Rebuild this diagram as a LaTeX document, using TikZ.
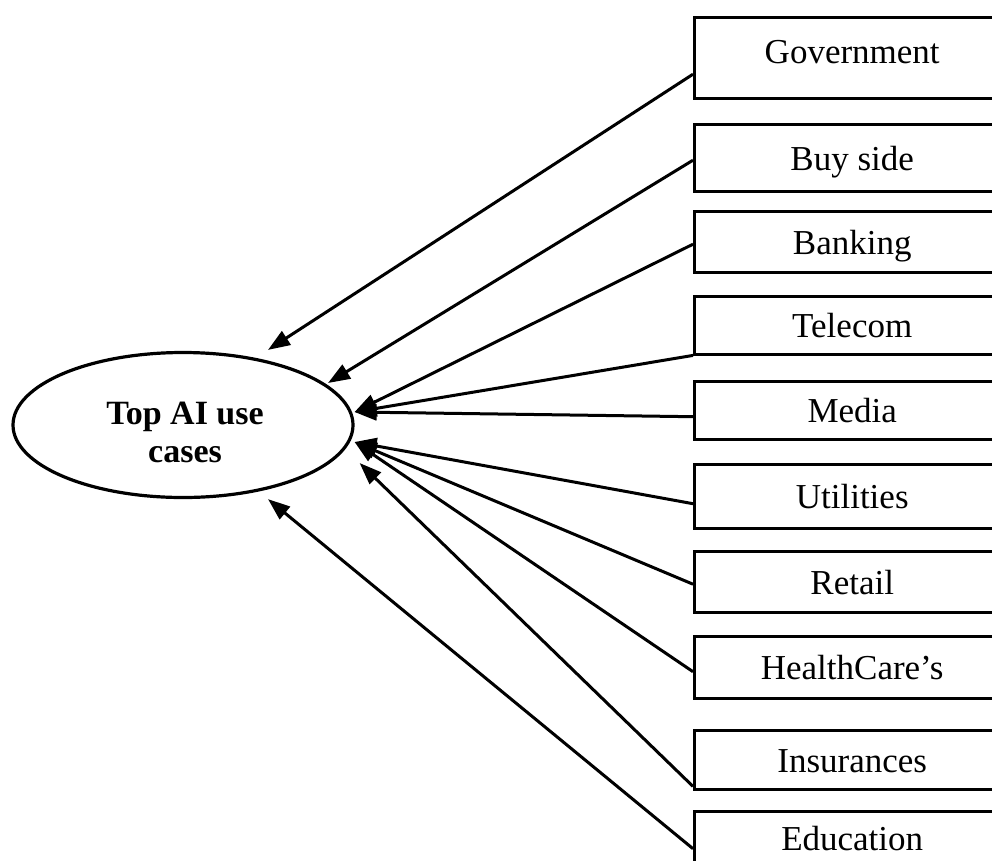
\documentclass[tikz,border=0pt]{standalone}
\usepackage{fontspec}
\setmainfont{Liberation Serif}
\usetikzlibrary{arrows.meta,shapes.geometric}
\begin{document}
\begin{tikzpicture}[x=1pt,y=-1pt,
  sector/.style={draw, line width=3.4pt, rectangle, minimum width=340pt, anchor=north west,
    inner sep=0pt, text height=28pt, text depth=4pt, font=\fontsize{35}{38}\selectfont},
  hub/.style={draw, line width=3.2pt, ellipse, minimum width=340pt, minimum height=145pt,
    inner sep=0pt},
  hubtext/.style={align=center, inner sep=0pt, font=\fontsize{34}{38}\selectfont\bfseries},
  link/.style={line width=3pt, -{Triangle[length=22pt,width=16pt]}}]
\clip (0,0) rectangle (992,860);
\fill[white] (0,0) rectangle (992,860);
\node[hub] (ell) at (183,425) {};
\node[hubtext] (elltext) at (185,432) {Top AI use\\cases};
\node[sector, minimum height=81pt] (gov) at (693,16) {\hspace*{-25pt}\raisebox{7pt}{Government}};
\node[sector, minimum height=67pt] (buy) at (693,123) {\hspace*{-25pt}Buy side};
\node[sector, minimum height=61pt] (bank) at (693,210) {\hspace*{-25pt}Banking};
\node[sector, minimum height=58pt] (tel) at (693,295) {\hspace*{-25pt}Telecom};
\node[sector, minimum height=58pt] (media) at (693,380) {\hspace*{-25pt}Media};
\node[sector, minimum height=64pt] (util) at (693,463) {\hspace*{-25pt}Utilities};
\node[sector, minimum height=61pt] (retail) at (693,550) {\hspace*{-25pt}Retail};
\node[sector, minimum height=62pt] (health) at (693,635) {\hspace*{-25pt}HealthCare’s};
\node[sector, minimum height=59pt] (ins) at (693,729) {\hspace*{-25pt}Insurances};
\node[sector, minimum height=62pt] (edu) at (693,810) {\hspace*{-25pt}\raisebox{4pt}{Education}};
\draw[link] ([yshift=-16pt]gov.west) -- ([xshift=85pt,yshift=1pt]ell.north);
\draw[link] ([yshift=-2pt]buy.west) -- ([xshift=145pt]ell.north |- 0,383);
\draw[link] ([yshift=-2pt]bank.west) -- ([yshift=13pt]ell.east);
\draw[link] ([yshift=1pt]tel.south west) -- ([yshift=13pt]ell.east);
\draw[link] ([yshift=-6pt]media.west) -- ([yshift=13pt]ell.east);
\draw[link] ([yshift=-7pt]util.west) -- ([yshift=-17pt]ell.east);
\draw[link] ([yshift=-2pt]retail.west) -- ([yshift=-17pt]ell.east);
\draw[link] ([yshift=-4pt]health.west) -- ([yshift=-17pt]ell.east);
\draw[link] ([yshift=5pt]ins.south west) -- ([xshift=5pt,yshift=-38pt]ell.east);
\draw[link] ([yshift=-6pt]edu.west) -- ([xshift=85pt]ell.south);
\end{tikzpicture}
\end{document}
